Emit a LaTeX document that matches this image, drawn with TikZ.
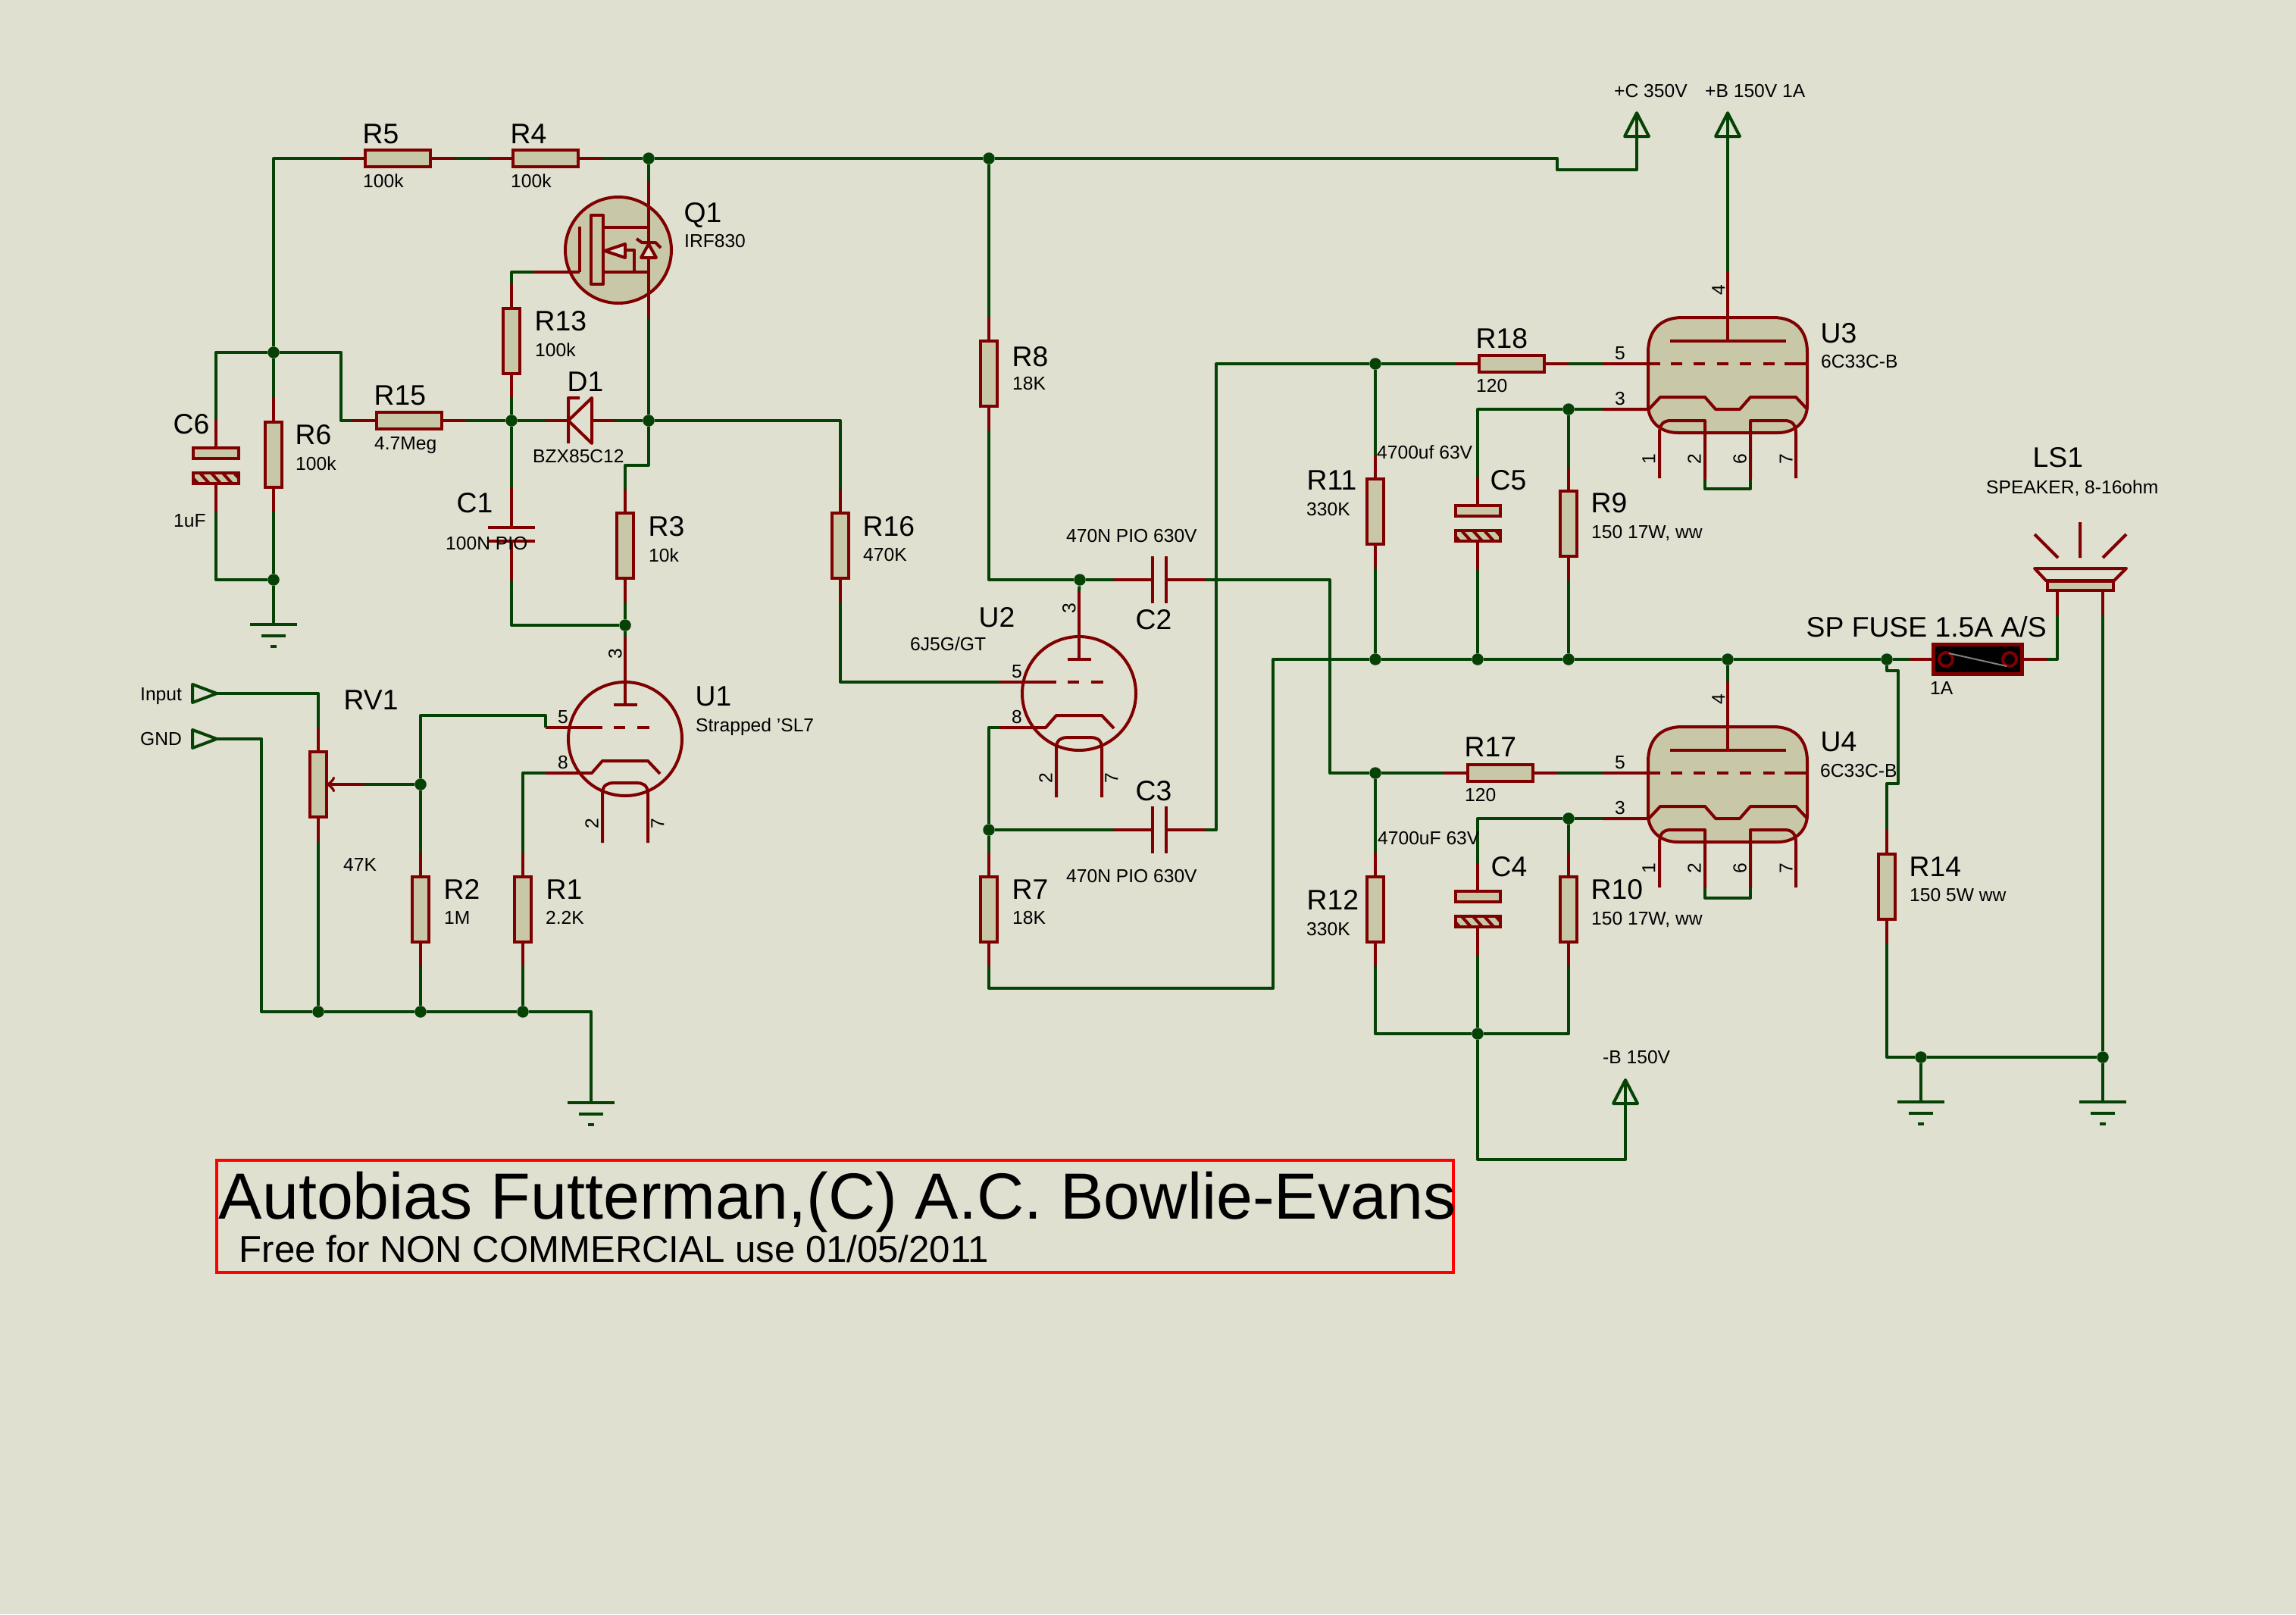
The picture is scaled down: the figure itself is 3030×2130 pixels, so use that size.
\documentclass[tikz,border=0pt]{standalone}
\usepackage{fontspec}
\setmainfont{Liberation Sans}
\definecolor{bgc}{HTML}{DFE0D0}
\definecolor{tan}{HTML}{C8C8A8}
\definecolor{partred}{HTML}{7F0000}
\definecolor{wiregreen}{HTML}{064206}

\newcommand{\resh}[3]{
  \node[res,minimum width=.865cm,minimum height=.215cm] (#1) at (#2,#3) {};
  \coordinate (#1a) at (#2-75,#3);
  \coordinate (#1b) at (#2+75,#3);
  \draw[lead] (#1a) -- (#1) (#1) -- (#1b);
}
\newcommand{\resv}[3]{
  \node[res,minimum width=.215cm,minimum height=.865cm] (#1) at (#2,#3) {};
  \coordinate (#1a) at (#2,#3-75);
  \coordinate (#1b) at (#2,#3+75);
  \draw[lead] (#1a) -- (#1) (#1) -- (#1b);
}
\newcommand{\caph}[3]{
  \coordinate (#1a) at (#2-61,#3);
  \coordinate (#1b) at (#2+61,#3);
  \draw[lead] (#1a) -- (#2-9,#3) (#2+9,#3) -- (#1b);
  \draw[comp] (#2-9,#3-31) -- (#2-9,#3+31) (#2+9,#3-31) -- (#2+9,#3+31);
}
\newcommand{\capv}[3]{
  \coordinate (#1a) at (#2,#3-61);
  \coordinate (#1b) at (#2,#3+61);
  \draw[lead] (#1a) -- (#2,#3-9) (#2,#3+9) -- (#1b);
  \draw[comp] (#2-31,#3-9) -- (#2+31,#3-9) (#2-31,#3+9) -- (#2+31,#3+9);
}
\newcommand{\elco}[3]{
  \node[res,minimum width=.59cm,minimum height=.14cm] (#1t) at (#2,#3-17) {};
  \node[res,minimum width=.59cm,minimum height=.145cm] (#1h) at (#2,#3+16) {};
  \begin{scope}
    \clip (#1h.south west) rectangle (#1h.north east);
    \foreach \i in {-30,-15,...,30} \draw[comp] (#2+\i-9,#3+6) -- (#2+\i+9,#3+26);
  \end{scope}
  \draw[comp] (#1h.south west) rectangle (#1h.north east);
  \coordinate (#1a) at (#2,#3-61);
  \coordinate (#1b) at (#2,#3+61);
  \draw[lead] (#1a) -- (#1t) (#1h) -- (#1b);
}
\newcommand{\gndsym}[3]{
  \coordinate (#1) at (#2,#3);
  \draw[wire] (#2-31,#3) -- (#2+31,#3) (#2-16,#3+15) -- (#2+16,#3+15) (#2-4,#3+29) -- (#2+4,#3+29);
}
\newcommand{\pwr}[3]{
  \coordinate (#1) at (#2,#3);
  \draw[wire] (#1) -- (#2-16,#3+31) -- (#2+16,#3+31) -- cycle;
}
\newcommand{\inpt}[3]{
  \coordinate (#1) at (#2,#3);
  \draw[wire] (#1) -- (#2-32,#3-12) -- (#2-32,#3+12) -- cycle;
}
\newcommand{\bigt}[4]{\node[bigl] (#1) at (#2-2,#3+13.5) {#4};}
\newcommand{\smt}[4]{\node[smal] (#1) at (#2-1.5,#3+8.7) {#4};}

\begin{document}
\begin{tikzpicture}[x=.01cm,y=-.01cm,
    comp/.style={draw=partred,line width=.04cm,line join=round},
    lead/.style={draw=partred,line width=.04cm},
    wire/.style={draw=wiregreen,line width=.04cm,line join=round},
    res/.style={draw=partred,fill=tan,line width=.04cm,inner sep=0pt,outer sep=0pt},
    junc/.style={circle,fill=wiregreen,inner sep=0pt,minimum size=.155cm},
    bigl/.style={anchor=base west,inner sep=0pt,font=\fontsize{10.6}{12}\selectfont},
    smal/.style={anchor=base west,inner sep=0pt,font=\fontsize{7}{8}\selectfont},
    pinl/.style={inner sep=0pt,font=\fontsize{7}{8}\selectfont},
    triode/.pic={
      \draw[comp] (0,0) circle (75);
      \coordinate (-a) at (0,-135);
      \coordinate (-g) at (-105,-15);
      \coordinate (-k) at (-105,45);
      \draw[comp] (-a) -- (0,-45) (-15,-45) -- (16,-45);
      \draw[comp] (-g) -- (-30,-15) (-15,-15) -- (0,-15) (16,-15) -- (32,-15);
      \draw[comp] (-k) -- (-44,45) -- (-30,29) -- (30,29) -- (46,46);
      \draw[comp] (-30,137) -- (-30,72) .. controls (-30,60) and (-22,58) .. (-15,58) -- (15,58) .. controls (22,58) and (30,60) .. (30,72) -- (30,137);
      \node[pinl] (-l5) at (-82,-29) {5};
      \node[pinl] (-l8) at (-82,31) {8};
      \node[pinl,rotate=90] (-l3) at (-13,-112) {3};
      \node[pinl,rotate=90] (-l2) at (-44,112) {2};
      \node[pinl,rotate=90] (-l7) at (43,112) {7};
    },
    pentode/.pic={
      \draw[comp,fill=tan] (-105,-15) .. controls (-105,-45) and (-88,-61) .. (-60,-61) -- (60,-61) .. controls (88,-61) and (105,-45) .. (105,-15) -- (105,55) .. controls (105,75) and (90,91) .. (66,91) -- (-66,91) .. controls (-90,91) and (-105,75) .. (-105,55) -- cycle;
      \coordinate (-a) at (0,-121);
      \coordinate (-g) at (-165,0);
      \coordinate (-k) at (-165,60);
      \coordinate (-h2) at (-30,152);
      \coordinate (-h6) at (30,152);
      \draw[comp] (-a) -- (0,-30) (-76,-30) -- (77,-30);
      \draw[comp] (-g) -- (-89,0);
      \foreach \d in {-75,-45,-14,16,47} \draw[comp] (\d,0) -- (\d+15,0);
      \draw[comp] (75,0) -- (105,0);
      \draw[comp] (-k) -- (-104,60) -- (-89,44) -- (-30,44) -- (-16,60) -- (16,60) -- (30,44) -- (90,44) -- (105,60);
      \draw[comp] (-90,151) -- (-90,92) .. controls (-90,80) and (-85,75) .. (-75,75) -- (-30,75) -- (-h2);
      \draw[comp] (-h6) -- (30,75) -- (75,75) .. controls (85,75) and (90,80) .. (90,92) -- (90,151);
      \node[pinl] (-l5) at (-142,-14) {5};
      \node[pinl] (-l3) at (-142,46) {3};
      \node[pinl,rotate=90] (-l4) at (-12,-97) {4};
      \node[pinl,rotate=90] (-l1) at (-104,126) {1};
      \node[pinl,rotate=90] (-l2) at (-44,126) {2};
      \node[pinl,rotate=90] (-l6) at (16,126) {6};
      \node[pinl,rotate=90] (-l7) at (77,126) {7};
    },
]

\fill[bgc] (0,0) rectangle (3030,2130);
\useasboundingbox (0,0) rectangle (3030,2130);

\resh{R5}{525}{209}
\resh{R4}{720}{209}
\resh{R15}{540}{555}
\resh{R18}{1995}{480}
\resh{R17}{1980}{1020}
\resv{R6}{361}{600}
\resv{R13}{675}{450}
\resv{R3}{825}{720}
\resv{R16}{1109}{720}
\resv{R8}{1305}{493}
\resv{R7}{1305}{1200}
\resv{R11}{1815}{675}
\resv{R9}{2070}{691}
\resv{R12}{1815}{1200}
\resv{R10}{2070}{1200}
\resv{R14}{2490}{1170}
\resv{R2}{555}{1200}
\resv{R1}{690}{1200}
\resv{RV1}{420}{1035}

\capv{C1}{675}{705}
\caph{C2}{1530}{765}
\caph{C3}{1530}{1095}
\elco{C6}{285}{615}
\elco{C5}{1950}{691}
\elco{C4}{1950}{1200}

\pic (U1) at (825,975) {triode};
\pic (U2) at (1424,915) {triode};
\pic (U3) at (2280,480) {pentode};
\pic (U4) at (2280,1020) {pentode};

\coordinate (Q1d) at (856,239);
\coordinate (Q1s) at (856,420);
\coordinate (Q1g) at (705,359);
\draw[comp,fill=tan] (816,330) circle (70);
\draw[lead] (Q1d) -- (Q1s);
\draw[lead] (Q1g) -- (765,359);
\draw[comp] (765,299) -- (765,359);
\draw[comp,fill=tan] (780,284) rectangle (796,375);
\draw[comp] (796,300) -- (856,300) (796,359) -- (856,359);
\draw[comp,fill=bgc] (798,331) -- (825,322) -- (825,340) -- cycle;
\draw[comp] (825,330) -- (837,330) -- (837,359);
\draw[comp,fill=bgc] (856,322) -- (846,340) -- (866,340) -- cycle;
\draw[comp] (840,315) -- (847,320) -- (865,320) -- (872,327);

\coordinate (D1a) at (720,555);
\coordinate (D1b) at (811,555);
\draw[lead] (D1a) -- (750,555) (781,555) -- (D1b);
\draw[comp] (765,525) -- (750,525) -- (750,585) (750,555) -- (781,525) -- (781,585) -- cycle;

\node[draw=partred,fill=black,line width=.045cm,inner sep=0pt,minimum width=1.17cm,minimum height=.39cm] (F1) at (2610,870) {};
\coordinate (F1a) at (2521,870);
\coordinate (F1b) at (2701,870);
\draw[lead] (F1a) -- (F1) (F1) -- (F1b);
\draw[comp] (2568,870) circle (9) (2652,870) circle (9);
\draw[gray,line width=.02cm] (2572,862) -- (2648,879);

\coordinate (LS1a) at (2715,812);
\coordinate (LS1b) at (2775,812);
\node[res,minimum width=.87cm,minimum height=.12cm] (LS1) at (2745,773) {};
\draw[comp] (2685,750) -- (2806,750) -- (2790,766) -- (2700,766) -- cycle;
\draw[comp] (2745,689) -- (2745,736) (2685,705) -- (2716,736) (2806,705) -- (2775,736);
\draw[lead] (2715,781) -- (LS1a) (2775,781) -- (LS1b);

\node[junc] (jA) at (856,209) {};
\node[junc] (jB) at (1305,209) {};
\node[junc] (jC) at (361,465) {};
\node[junc] (jD) at (361,765) {};
\node[junc] (jE) at (675,555) {};
\node[junc] (jF) at (856,555) {};
\node[junc] (jG) at (825,825) {};
\node[junc] (jH) at (1425,765) {};
\node[junc] (jI) at (1305,1095) {};
\node[junc] (jJ) at (1815,480) {};
\node[junc] (jK) at (2070,540) {};
\node[junc] (jL) at (1815,870) {};
\node[junc] (jM) at (1950,870) {};
\node[junc] (jN) at (2070,870) {};
\node[junc] (jO) at (2280,870) {};
\node[junc] (jP) at (2490,870) {};
\node[junc] (jQ) at (1815,1020) {};
\node[junc] (jR) at (2070,1080) {};
\node[junc] (jS) at (1950,1364) {};
\node[junc] (jT) at (2535,1395) {};
\node[junc] (jU) at (2775,1395) {};
\node[junc] (jV) at (420,1335) {};
\node[junc] (jW) at (555,1335) {};
\node[junc] (jX) at (690,1335) {};
\node[junc] (jY) at (555,1035) {};

\gndsym{G1}{361}{824}
\gndsym{G2}{780}{1455}
\gndsym{G3}{2535}{1454}
\gndsym{G4}{2775}{1454}
\pwr{PC}{2160}{149}
\pwr{PB}{2280}{149}
\pwr{NB}{2145}{1425}
\inpt{In}{286}{915}
\inpt{Gd}{286}{975}

\coordinate (c15) at (450,555);
\coordinate (c3) at (825,614);
\coordinate (cPC) at (2055,209);
\coordinate (cPC2) at (2160,224);
\coordinate (c17) at (1755,1020);
\coordinate (c16) at (1605,480);
\coordinate (cNB) at (2145,1530);
\coordinate (cR7) at (1680,1304);
\coordinate (cG) at (345,1335);
\coordinate (c5) at (720,944);
\coordinate (RVw) at (481,1035);

\draw[wire] (jC) |- (R5a);
\draw[wire] (R5b) -- (R4a);
\draw[wire] (R4b) -- (jA) -- (jB) -- (cPC) |- (cPC2) -- (PC);
\draw[wire] (jA) -- (Q1d);
\draw[wire] (Q1s) -- (jF);
\draw[wire] (jC) -- (R6a);
\draw[wire] (R6b) -- (jD) -- (G1);
\draw[wire] (jC) -| (C6a);
\draw[wire] (C6b) |- (jD);
\draw[wire] (jC) -| (c15) -- (R15a);
\draw[wire] (R15b) -- (jE) -- (D1a);
\draw[wire] (D1b) -- (jF);
\draw[wire] (jE) -- (R13b);
\draw[wire] (R13a) |- (Q1g);
\draw[wire] (jE) -- (C1a);
\draw[wire] (C1b) |- (jG);
\draw[wire] (jF) |- (c3) -- (R3a);
\draw[wire] (R3b) -- (jG) -- (U1-a);
\draw[wire] (jF) -| (R16a);
\draw[wire] (R16b) |- (U2-g);
\draw[wire] (jB) -- (R8a);
\draw[wire] (R8b) |- (jH) -- (C2a);
\draw[wire] (jH) -- (U2-a);
\draw[wire] (C2b) -| (c17) -- (jQ) -- (R17a);
\draw[wire] (R17b) -- (U4-g);
\draw[wire] (jQ) -- (R12a);
\draw[wire] (R12b) |- (jS);
\draw[wire] (jS) -- (C4b);
\draw[wire] (C4a) |- (jR) -- (U4-k);
\draw[wire] (jR) -- (R10a);
\draw[wire] (R10b) |- (jS);
\draw[wire] (jS) |- (cNB) -- (NB);
\draw[wire] (U2-k) -| (jI) -- (R7a);
\draw[wire] (jI) -- (C3a);
\draw[wire] (C3b) -| (c16) -- (jJ) -- (R18a);
\draw[wire] (R18b) -- (U3-g);
\draw[wire] (jJ) -- (R11a);
\draw[wire] (R11b) -- (jL);
\draw[wire] (C5a) |- (jK) -- (U3-k);
\draw[wire] (C5b) -- (jM);
\draw[wire] (jK) -- (R9a);
\draw[wire] (R9b) -- (jN);
\draw[wire] (R7b) |- (cR7) |- (jL);
\draw[wire] (jL) -- (jM) -- (jN) -- (jO) -- (jP) -- (F1a);
\draw[wire] (jO) -- (U4-a);
\draw[wire] (U3-a) -- (PB);
\draw[wire] (U3-h2) -- ++(0,13) -- ++(60,0) -- (U3-h6);
\draw[wire] (U4-h2) -- ++(0,13) -- ++(60,0) -- (U4-h6);
\draw[wire] (jP) -- ++(0,15) -- ++(15,0) -- ++(0,149) -- ++(-15,0) -- (R14a);
\draw[wire] (R14b) |- (jT) -- (jU);
\draw[wire] (jT) -- (G3);
\draw[wire] (jU) -- (G4);
\draw[wire] (LS1b) -- (jU);
\draw[wire] (F1b) -| (LS1a);
\draw[wire] (In) -| (RV1a);
\draw[wire] (Gd) -| (cG) -- (jV);
\draw[wire] (RV1b) -- (jV) -- (jW) -- (jX) -| (G2);
\draw[wire] (R2b) -- (jW);
\draw[wire] (R1b) -- (jX);
\draw[wire] (jY) -- (R2a);
\draw[wire] (jY) |- (c5) -- (U1-g);
\draw[wire] (U1-k) -| (R1a);
\draw[wire] (jY) -- (RVw);
\draw[comp,->] (RVw) -- (RV1);

\bigt{tR5}{480}{176}{R5}
\smt{vR5}{480}{239}{100k}
\bigt{tR4}{675}{176}{R4}
\smt{vR4}{675}{239}{100k}
\bigt{tQ1}{904}{280}{Q1}
\smt{vQ1}{904}{318}{IRF830}
\bigt{tR13}{707}{423}{R13}
\smt{vR13}{707}{462}{100k}
\bigt{tD1}{750}{503}{D1}
\smt{vD1}{704}{602}{BZX85C12}
\bigt{tR15}{495}{521}{R15}
\smt{vR15}{495}{585}{4.7Meg}
\bigt{tC6}{230}{559}{C6}
\smt{vC6}{230}{687}{1uF}
\bigt{tR6}{391}{573}{R6}
\smt{vR6}{391}{612}{100k}
\bigt{tC1}{604}{663}{C1}
\smt{vC1}{589}{717}{100N PIO}
\bigt{tR3}{857}{694}{R3}
\smt{vR3}{857}{733}{10k}
\bigt{tR16}{1140}{694}{R16}
\smt{vR16}{1140}{732}{470K}
\bigt{tR8}{1337}{470}{R8}
\smt{vR8}{1337}{506}{18K}
\bigt{tR7}{1337}{1173}{R7}
\smt{vR7}{1337}{1211}{18K}
\bigt{tU1}{919}{918}{U1}
\smt{vU1}{919}{957}{Strapped 'SL7}
\bigt{tU2}{1293}{814}{U2}
\smt{vU2}{1202}{850}{6J5G/GT}
\smt{vC2}{1408}{707}{470N PIO 630V}
\bigt{tC2}{1500}{817}{C2}
\bigt{tC3}{1500}{1043}{C3}
\smt{vC3}{1408}{1156}{470N PIO 630V}
\bigt{tR18}{1949}{446}{R18}
\smt{vR18}{1949}{509}{120}
\bigt{tR11}{1726}{633}{R11}
\smt{vR11}{1725}{672}{330K}
\smt{vC5}{1818}{597}{4700uf 63V}
\bigt{tC5}{1968}{633}{C5}
\bigt{tR9}{2101}{663}{R9}
\smt{vR9}{2101}{702}{150 17W, ww}
\bigt{tU3}{2404}{439}{U3}
\smt{vU3}{2404}{477}{6C33C-B}
\bigt{tR17}{1934}{985}{R17}
\smt{vR17}{1934}{1049}{120}
\bigt{tR12}{1726}{1187}{R12}
\smt{vR12}{1725}{1226}{330K}
\smt{vC4}{1819}{1106}{4700uF 63V}
\bigt{tC4}{1969}{1143}{C4}
\bigt{tR10}{2101}{1173}{R10}
\smt{vR10}{2101}{1212}{150 17W, ww}
\bigt{tU4}{2404}{978}{U4}
\smt{vU4}{2403}{1017}{6C33C-B}
\smt{vPC}{2131}{120}{+C 350V}
\smt{vPB}{2251}{120}{+B 150V 1A}
\smt{vNB}{2116}{1395}{-B 150V}
\bigt{tR14}{2521}{1143}{R14}
\smt{vR14}{2521}{1181}{150 5W ww}
\node[bigl] (tF1) at (2383,840) {SP FUSE 1.5A A/S};
\smt{vF1}{2548}{908}{1A}
\bigt{tLS1}{2684}{603}{LS1}
\smt{vLS1}{2622}{643}{SPEAKER, 8-16ohm}
\smt{vIn}{186}{916}{Input}
\smt{vGd}{186}{975}{GND}
\bigt{tRV1}{455}{923}{RV1}
\smt{vRV1}{454}{1141}{47K}
\bigt{tR2}{587}{1173}{R2}
\smt{vR2}{587}{1211}{1M}
\bigt{tR1}{722}{1173}{R1}
\smt{vR1}{721}{1211}{2.2K}

\node[draw=red,line width=.04cm,inner sep=0pt,minimum width=16.32cm,minimum height=1.47cm] (box) at (1102,1605) {};
\node[anchor=base west,inner sep=0pt,font=\fontsize{24.5}{30}\selectfont] (title) at (288,1608) {Autobias Futterman,(C) A.C. Bowlie-Evans};
\node[anchor=base west,inner sep=0pt,font=\fontsize{13.96}{16}\selectfont] (subtitle) at (315,1665) {Free for NON COMMERCIAL use 01/05/2011};

\end{tikzpicture}
\end{document}
